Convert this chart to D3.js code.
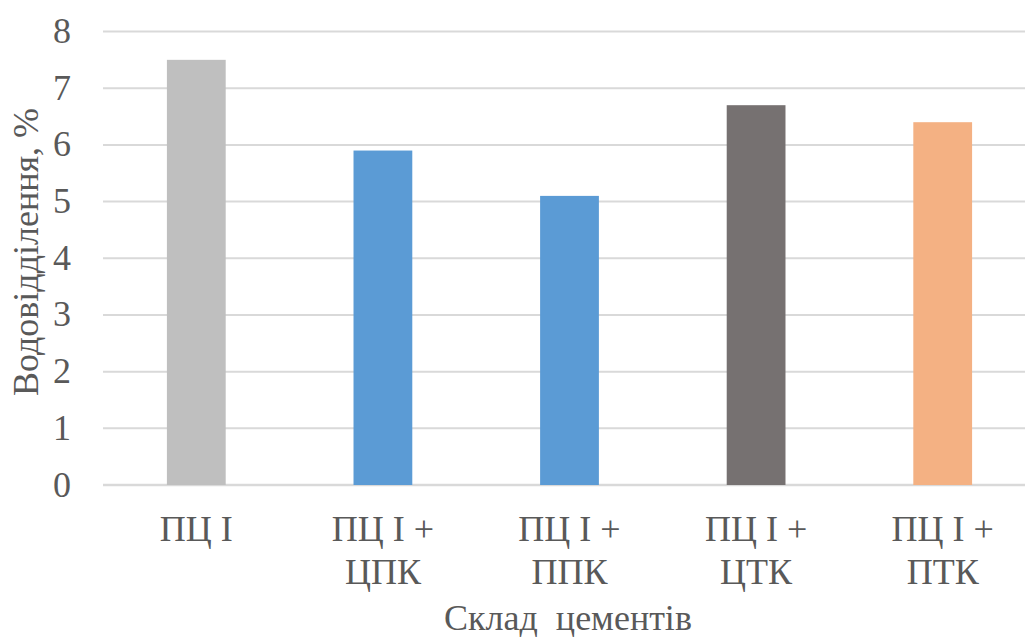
<!DOCTYPE html>
<html>
<head>
<meta charset="utf-8">
<script src="https://cdn.jsdelivr.net/npm/d3@7"></script>
<style>
  svg text { font-family: "Times New Roman", "Liberation Serif", Tinos, serif !important; }
</style>
</head>
<body style="margin:0">
<svg id="chart" width="1025" height="639"></svg>
<script>
// Water separation by cement composition
const categories = [["ПЦ I"], ["ПЦ I +", "ЦПК"], ["ПЦ I +", "ППК"], ["ПЦ I +", "ЦТК"], ["ПЦ I +", "ПТК"]];
const values = [7.5, 5.9, 5.1, 6.7, 6.4];
const barColors = ["#BFBFBF", "#5B9BD5", "#5B9BD5", "#767171", "#F4B183"];
const yTicks = [0, 1, 2, 3, 4, 5, 6, 7, 8];
const yTitle = "Водовідділення, %";
const xTitle = "Склад  цементів";

const FONT = "Times New Roman";
const TEXT_COLOR = "#595959";

const svg = d3.select("#chart");
const margin = { left: 103, right: -11, top: 31.5, bottom: 154 };
const W = 1025, H = 639;

const x = d3.scaleBand()
  .domain(d3.range(categories.length))
  .range([margin.left, W - margin.right])
  .paddingInner(0.685)
  .paddingOuter(0.3425);

const y = d3.scaleLinear()
  .domain([0, 8])
  .range([H - margin.bottom, margin.top]);

// horizontal gridlines
svg.append("g")
  .selectAll("line")
  .data(yTicks)
  .join("line")
  .attr("x1", margin.left)
  .attr("x2", W - margin.right)
  .attr("y1", d => y(d))
  .attr("y2", d => y(d))
  .attr("stroke", "#D9D9D9")
  .attr("stroke-width", d => d === 0 ? 2.5 : 2);

// y tick labels, placed from the scale
svg.append("g")
  .selectAll("text")
  .data(yTicks)
  .join("text")
  .attr("x", margin.left - 32)
  .attr("y", d => y(d))
  .attr("dy", "0.32em")
  .attr("text-anchor", "end")
  .attr("fill", TEXT_COLOR)
  .attr("font-family", FONT)
  .attr("font-size", 36)
  .text(d => d);

// bars
svg.append("g")
  .selectAll("rect")
  .data(values)
  .join("rect")
  .attr("x", (d, i) => x(i))
  .attr("width", x.bandwidth())
  .attr("y", d => y(d))
  .attr("height", d => y(0) - y(d))
  .attr("fill", (d, i) => barColors[i]);

// category labels
const cat = svg.append("g")
  .selectAll("text")
  .data(categories)
  .join("text")
  .attr("x", (d, i) => x(i) + x.bandwidth() / 2)
  .attr("y", 541)
  .attr("text-anchor", "middle")
  .attr("fill", TEXT_COLOR)
  .attr("font-family", FONT)
  .attr("font-size", 36);
cat.selectAll("tspan")
  .data(d => d)
  .join("tspan")
  .attr("x", function () { return d3.select(this.parentNode).attr("x"); })
  .attr("dy", (d, i) => i === 0 ? 0 : 43)
  .text(d => d);

// axis titles
svg.append("text")
  .attr("x", 568)
  .attr("y", 630)
  .attr("text-anchor", "middle")
  .attr("fill", TEXT_COLOR)
  .attr("font-family", FONT)
  .attr("font-size", 36)
  .attr("xml:space", "preserve")
  .text(xTitle);

svg.append("text")
  .attr("transform", "translate(38,252) rotate(-90)")
  .attr("text-anchor", "middle")
  .attr("fill", TEXT_COLOR)
  .attr("font-family", FONT)
  .attr("font-size", 36)
  .text(yTitle);
</script>
</body>
</html>
